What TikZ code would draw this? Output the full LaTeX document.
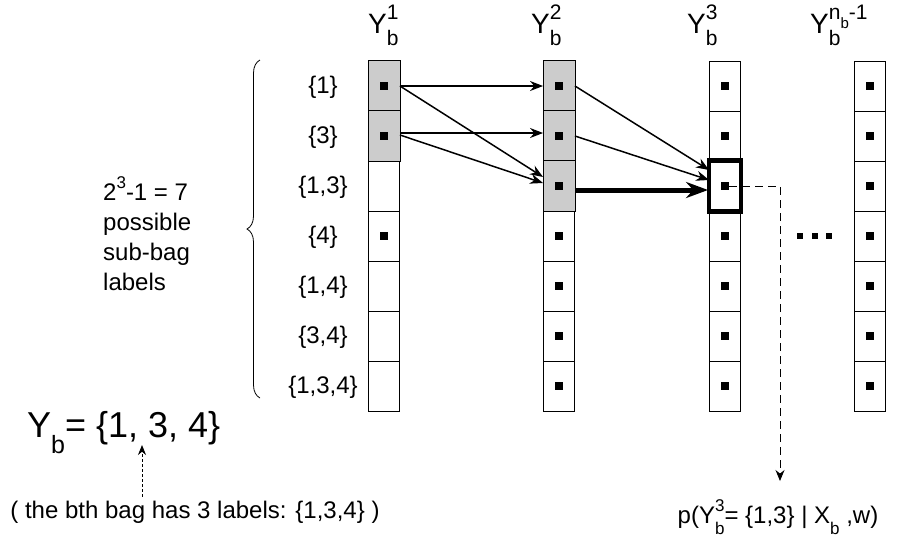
\documentclass[tikz,border=0pt]{standalone}
\usepackage{fontspec}
\setmainfont{Liberation Sans}
\usetikzlibrary{arrows.meta,decorations.pathreplacing}
\newcommand{\fs}[1]{\fontsize{#1}{#1}\selectfont}
\newcommand{\lo}[2]{\raisebox{-.45em}{\fs{#1}#2}}
\newcommand{\hi}[2]{\raisebox{.5em}{\fs{#1}#2}}
\newcommand{\losup}[3]{\rlap{\raisebox{-.45em}{\fs{#1}#2}}\raisebox{.5em}{\fs{#1}#3}}

\begin{document}
\begin{tikzpicture}[x=1pt,y=-1pt,
  cell/.style={draw, minimum width=31pt, minimum height=50pt, inner sep=0pt, line width=0.9pt},
  sqdot/.style={fill=black, minimum size=8pt, inner sep=0pt},
  txt/.style={font=\fs{24}, inner sep=0pt},
  head/.style={font=\fs{28}, inner sep=0pt, anchor=base west},
  arr/.style={-{Stealth[length=13pt,width=10pt]}, line width=1.5pt}]
  \useasboundingbox (0,0) rectangle (912,542);

  \foreach \c/\x in {1/384,2/559,3/725,4/870}
    \foreach \r in {1,...,7}
      \node[cell] (c\c-\r) at (\x,36+50*\r) {};
  \foreach \n in {c1-1,c1-2,c2-1,c2-2,c2-3}
    \draw[fill=black!20, line width=0.9pt] (\n.south west) rectangle (\n.north east);

  \foreach \r in {1,2,4}
    \node[sqdot] (d1-\r) at (c1-\r) {};
  \foreach \c in {2,3,4}
    \foreach \r in {1,...,7}
      \node[sqdot] (d\c-\r) at (c\c-\r) {};

  \node[head] (h1) at (368,33) {Y\losup{21}{b}{1}};
  \node[head] (h2) at (531,33) {Y\losup{21}{b}{2}};
  \node[head] (h3) at (687,33) {Y\losup{21}{b}{3}};
  \node[head] (h4) at (810,33) {Y\losup{21}{b}{n\lo{15}{b}-1}};

  \foreach \r/\t in {1/\{1\},2/\{3\},3/{\{1,3\}},4/\{4\},5/{\{1,4\}},6/{\{3,4\}},7/{\{1,3,4\}}}
    \node[txt] (l\r) at (323,37+50*\r) {\t};

  \draw[decorate, decoration={brace, amplitude=13pt}, line width=0.8pt] (260,398) -- (260,60);
  \node[txt, align=left, anchor=north west, font=\fontsize{24}{30}\selectfont] (cnt) at (103,176)
    {2\hi{17}{3}-1 = 7\\possible\\sub-bag\\labels};

  \draw[arr] (c1-1.east) -- (c2-1.west);
  \draw[arr] (c1-1.east) -- ([yshift=9pt]c2-3.west);
  \draw[arr] ([yshift=3pt]c1-2.east) -- ([yshift=3pt]c2-2.west);
  \draw[arr] ([yshift=1pt]c1-2.east) -- ([yshift=3pt]c2-3.west);
  \draw[arr] (c2-1.east) -- ([yshift=16pt]c3-3.west);
  \draw[arr] (c2-2.east) -- ([yshift=6pt]c3-3.west);
  \draw[-{Stealth[length=22pt,width=16pt]}, line width=5pt] ([yshift=-4pt]c2-3.east) -- ([yshift=-4pt,xshift=-1pt]c3-3.west);
  \draw[line width=4.5pt] (c3-3.south west) rectangle (c3-3.north east);

  \node[sqdot, minimum size=6pt] (e1) at (800,236) {};
  \node[sqdot, minimum size=6pt] (e2) at (815,236) {};
  \node[sqdot, minimum size=6pt] (e3) at (829,236) {};

  \coordinate (ptip) at (780,481);
  \draw[dash pattern=on 8pt off 5pt, line width=0.9pt, -{Stealth[length=11pt,width=9pt]}] (d3-3) -| (ptip);
  \node[txt] (prob) at (778,517) {p(Y\losup{17}{b}{3}= \{1,3\} | X\lo{17}{b} ,w)};

  \node[txt, font=\fs{36}, anchor=base west] (yb) at (27,437) {Y\lo{25}{b}= \{1, 3, 4\}};
  \node[txt] (note) at (195,512) {( the bth bag has 3 labels: \{1,3,4\} )};
  \coordinate (ybtip) at (142,445);
  \draw[dash pattern=on 3pt off 2pt, line width=0.9pt, -{Stealth[length=10pt,width=8pt]}, shorten <=4pt] (note.north -| ybtip) -- (ybtip);
\end{tikzpicture}
\end{document}
